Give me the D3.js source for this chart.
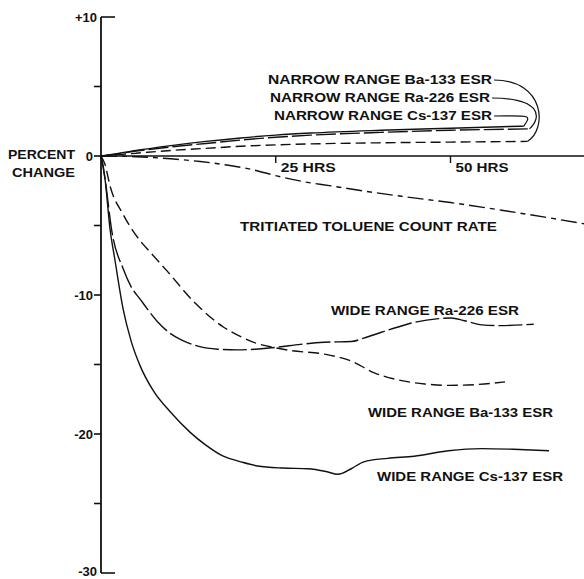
<!DOCTYPE html>
<html><head><meta charset="utf-8">
<script src="https://cdn.jsdelivr.net/npm/d3@7"></script>
<style>
body{margin:0;background:#fff}
svg text{font-family:"Liberation Sans",Arial,Helvetica,sans-serif;font-weight:bold;fill:#111}
</style>
</head><body><svg id="c" width="584" height="579"></svg>
<script>
// ---- data (hours, percent change) ----
const yTickValues = [10,5,0,-5,-10,-15,-20,-25,-30];
const yTickLabels = ["+10","","0","","-10","","-20","","-30"];
const xTickValues = [25,50];
const xTickLabels = ["25 HRS","50 HRS"];

const narrowCsT = [0,2,5,10,15,20,25,30,40,50,60.5];
const narrowCsV = [0,0.15,0.4,0.75,1.05,1.3,1.5,1.65,1.85,2.0,2.15];
const narrowRaT = [0,2,5,10,15,20,25,30,40,50,61.3];
const narrowRaV = [0,0.12,0.35,0.65,0.9,1.15,1.35,1.5,1.7,1.85,1.95];
const narrowBaT = [0,2,5,10,15,20,25,30,40,50,61];
const narrowBaV = [0,0.08,0.2,0.4,0.55,0.7,0.8,0.87,0.95,1.0,1.05];

const tolueneT = [0,5,10,14.2,18,21.4,25.3,29,32.9,38,43,50,57.3,63.5,69.4];
const tolueneV = [0,-0.05,-0.2,-0.4,-0.65,-0.95,-1.45,-1.85,-2.15,-2.55,-2.9,-3.35,-3.9,-4.4,-4.9];

const wideRaT = [0,0.3,0.57,1.58,3.16,4.3,5.6,8.05,10,11.8,14,16.7,19.5,22,25.3,28.5,31.9,35.8,37.6,40,42.5,45,48.3,50.1,52,54.5,57,61.9];
const wideRaV = [0,-0.7,-1.6,-5.5,-8.1,-9.4,-10.3,-11.9,-12.8,-13.3,-13.7,-13.9,-13.95,-13.9,-13.75,-13.55,-13.4,-13.35,-13.1,-12.7,-12.3,-11.95,-11.7,-11.65,-11.85,-12.15,-12.2,-12.1];

const wideBaT = [0,0.57,1.29,3.16,5.6,7,9.5,13.5,17.5,20,22.4,25,27.2,31.9,35.8,39.1,42,46.3,49.7,53.4,57.8];
const wideBaV = [0,-0.6,-2.15,-4.2,-6.1,-6.9,-8.3,-10.6,-12.3,-13.0,-13.5,-13.8,-14.0,-14.25,-14.75,-15.6,-16.05,-16.4,-16.5,-16.45,-16.25];

const wideCsT = [0,0.3,0.57,1.29,2,3.16,4.3,5.6,7.5,9.9,12.8,15,17.5,20,22.4,26,29.6,32.2,33.9,35.8,37.6,41,44.8,49.7,54.5,59,64.1];
const wideCsV = [0,-0.8,-1.65,-5.25,-7.5,-11,-13.3,-15.1,-16.9,-18.4,-19.9,-20.8,-21.6,-22.0,-22.3,-22.45,-22.5,-22.7,-22.9,-22.5,-22.0,-21.75,-21.6,-21.2,-21.05,-21.1,-21.2];

// ---- scales ----
const svg = d3.select("#c");
const x = d3.scaleLinear().domain([0,50]).range([101,450.5]);
const y = d3.scaleLinear().domain([-30,10]).range([573,17]);

const ink = "#111";
const line = d3.line().x(d=>x(d[0])).y(d=>y(d[1])).curve(d3.curveMonotoneX);
const zip = (t,v)=>t.map((ti,i)=>[ti,v[i]]);

// ---- axes ----
const g = svg.append("g");
g.append("line").attr("x1",x(0)).attr("x2",x(0)).attr("y1",y(10)).attr("y2",y(-30))
  .attr("stroke",ink).attr("stroke-width",1.8);
g.append("line").attr("x1",x(0)).attr("x2",584).attr("y1",y(0)).attr("y2",y(0))
  .attr("stroke",ink).attr("stroke-width",1.6);
yTickValues.forEach((v,i)=>{
  const end = (v===10||v===-30);
  g.append("line").attr("x1",x(0)).attr("x2", end? x(0)+14 : x(0)-7)
    .attr("y1",y(v)).attr("y2",y(v)).attr("stroke",ink).attr("stroke-width",1.6);
  if(yTickLabels[i]) g.append("text").attr("x", end? x(0)-4 : x(0)-8)
    .attr("y", v===-30 ? y(v)+3 : y(v)+5)
    .attr("text-anchor","end").attr("font-size",13).text(yTickLabels[i]);
});
xTickValues.forEach((v,i)=>{
  g.append("line").attr("x1",x(v)).attr("x2",x(v)).attr("y1",y(0)).attr("y2",y(0)+7)
    .attr("stroke",ink).attr("stroke-width",1.4);
  g.append("text").attr("x",x(v)+5).attr("y",y(0)+16).attr("font-size",13)
    .attr("textLength", i===0?55:53).attr("lengthAdjust","spacingAndGlyphs").text(xTickLabels[i]);
});
g.append("text").attr("x",8).attr("y",159).attr("font-size",12.5)
  .attr("textLength",67).attr("lengthAdjust","spacingAndGlyphs").text("PERCENT");
g.append("text").attr("x",12).attr("y",177).attr("font-size",12.5)
  .attr("textLength",63).attr("lengthAdjust","spacingAndGlyphs").text("CHANGE");

// ---- series ----
const series = [
  {t:narrowCsT,v:narrowCsV,dash:null},
  {t:narrowRaT,v:narrowRaV,dash:"20,4"},
  {t:narrowBaT,v:narrowBaV,dash:"10,5"},
  {t:tolueneT,v:tolueneV,dash:"16,5,5,5"},
  {t:wideRaT,v:wideRaV,dash:"24,4"},
  {t:wideBaT,v:wideBaV,dash:"11,5"},
  {t:wideCsT,v:wideCsV,dash:null}
];
series.forEach(s=>{
  svg.append("path").attr("d",line(zip(s.t,s.v))).attr("fill","none")
    .attr("stroke",ink).attr("stroke-width",1.4)
    .attr("stroke-dasharray",s.dash);
});

// ---- labels ----
function label(txt,x0,yb,len,fs){
  return svg.append("text").attr("x",x0).attr("y",yb).attr("font-size",fs||12.5)
    .attr("textLength",len).attr("lengthAdjust","spacingAndGlyphs").text(txt);
}
const nb = label("NARROW RANGE Ba-133  ESR",268,84,224);
const nr = label("NARROW RANGE Ra-226  ESR",270,102,220);
const nc = label("NARROW RANGE  Cs-137 ESR",274,120,218);
label("TRITIATED  TOLUENE  COUNT RATE",240,231,257);
label("WIDE RANGE Ra-226  ESR",331,315,188);
label("WIDE RANGE Ba-133 ESR",368,417,185);
label("WIDE RANGE Cs-137 ESR",377,481,186);

// leader lines from label ends to the ends of the narrow-range curves
function leader(lbl, t, v, off){
  const b = lbl.node().getBBox();
  const sx = b.x+b.width+2, sy = b.y+b.height/2;
  const ex = x(t[t.length-1]), ey = y(v[v.length-1]);
  const p = d3.path();
  p.moveTo(sx,sy);
  p.bezierCurveTo(ex+off, sy, ex+off+2, ey-12, ex, ey);
  svg.append("path").attr("d",p.toString()).attr("fill","none").attr("stroke",ink).attr("stroke-width",1.2);
}
leader(nb, narrowBaT, narrowBaV, 18);
leader(nr, narrowRaT, narrowRaV, 11);
leader(nc, narrowCsT, narrowCsV, 6);
</script>
</body></html>
